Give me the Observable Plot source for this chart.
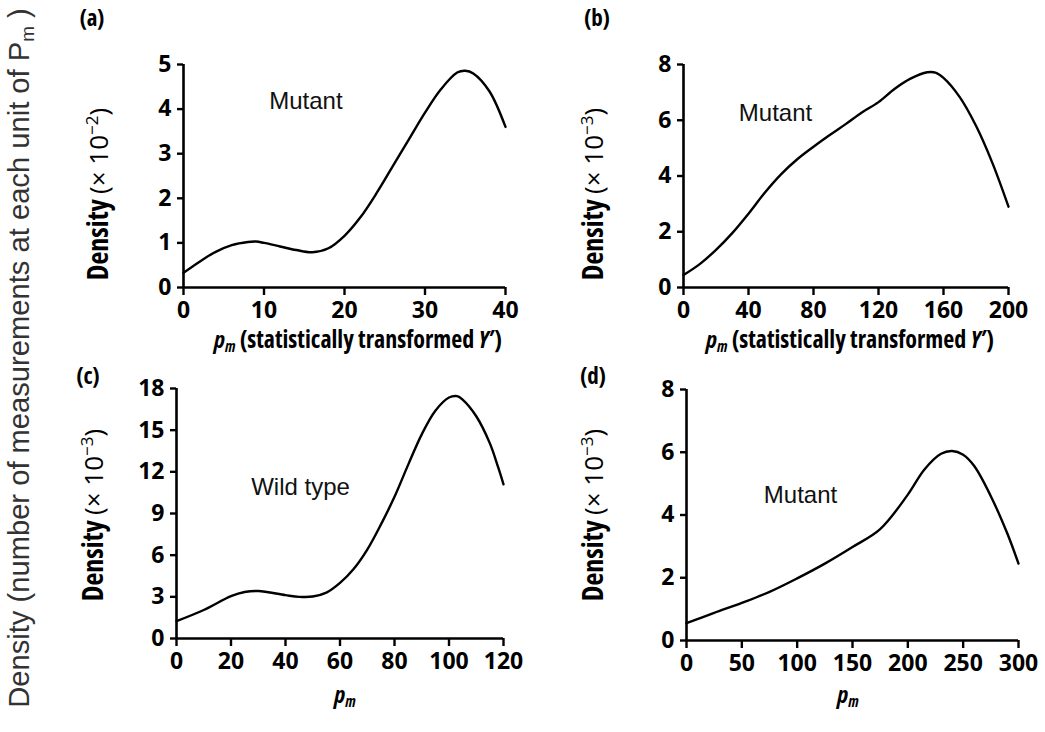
<!DOCTYPE html>
<html><head><meta charset="utf-8">
<script src="https://cdn.jsdelivr.net/npm/d3@7"></script>
<script src="https://cdn.jsdelivr.net/npm/@observablehq/plot@0.6"></script>
<style>
html,body{margin:0;padding:0;background:#fff;}
#fig{position:relative;width:1045px;height:732px;overflow:hidden;background:#fff;color:#000;}
.lbl{position:absolute;white-space:nowrap;transform:translate(-50%,-50%);line-height:1.1;}
.rot{transform:translate(-50%,-50%) rotate(-90deg);}
.tickfont{font-family:"Open Sans","DejaVu Sans",sans-serif;font-weight:700;font-stretch:87.5%;}
.reg{font-family:"Open Sans","DejaVu Sans",sans-serif;font-weight:400;font-stretch:normal;}
.plain{font-family:"Liberation Sans",Arial,sans-serif;font-weight:400;}
sup{font-size:62%;vertical-align:0.55em;line-height:0;}
sub{font-size:65%;vertical-align:-0.25em;line-height:0;}
</style></head><body><div id="fig"></div>
<script>
// ---------- data ----------
const aX = [0,2,4,6,8,9,10,12,14,16,18,20,22,24,26,28,30,32,34,35,36,38,40];
const aY = [0.33,0.58,0.80,0.95,1.02,1.03,1.00,0.92,0.84,0.79,0.88,1.16,1.58,2.12,2.72,3.32,3.92,4.45,4.82,4.86,4.80,4.40,3.60];
const bX = [0,10,20,30,40,50,60,70,80,90,100,110,120,130,140,150,155,160,170,180,190,200];
const bY = [0.45,0.84,1.35,1.95,2.65,3.40,4.06,4.60,5.05,5.47,5.87,6.29,6.65,7.13,7.50,7.72,7.71,7.52,6.83,5.80,4.48,2.90];
const cX = [0,10,20,25,30,40,45,50,55,60,65,70,75,80,85,90,95,100,103,105,110,115,118,120];
const cY = [1.25,2.05,3.05,3.35,3.42,3.12,3.00,3.02,3.30,4.00,5.00,6.40,8.20,10.20,12.50,14.70,16.40,17.35,17.45,17.20,16.00,14.05,12.35,11.10];
const dX = [0,25,50,75,100,125,150,175,200,215,230,240,250,260,275,290,300];
const dY = [0.55,0.88,1.20,1.55,1.98,2.45,2.98,3.55,4.65,5.45,5.95,6.04,5.92,5.56,4.60,3.40,2.45];

const aTicksX = [0,10,20,30,40], aTicksY = [0,1,2,3,4,5];
const bTicksX = [0,40,80,120,160,200], bTicksY = [0,2,4,6,8];
const cTicksX = [0,20,40,60,80,100,120], cTicksY = [0,3,6,9,12,15,18];
const dTicksX = [0,50,100,150,200,250,300], dTicksY = [0,2,4,6,8];

const panelLetters = ["(a)","(b)","(c)","(d)"];
const exponents = ["−2","−3","−3","−3"];
const notes = [
  {x: 15.2, y: 4.18, text: "Mutant"},
  {x: 56.6, y: 6.24, text: "Mutant"},
  {x: 45.5, y: 10.9, text: "Wild type"},
  {x: 103, y: 4.63, text: "Mutant"}
];
const xTitleLong = "(statistically transformed <i>Y</i>′)";

// ---------- layout ----------
const FONT = '"Open Sans","DejaVu Sans",sans-serif';
const fig = document.getElementById("fig");
const panels = [
  {xs:aX, ys:aY, xd:[0,40],  yd:[0,5],  xt:aTicksX, yt:aTicksY, frame:[183,505,64,287], letter:[92,18],  ylab:[97,194],  xlab:[358,339], long:true},
  {xs:bX, ys:bY, xd:[0,200], yd:[0,8],  xt:bTicksX, yt:bTicksY, frame:[683,1008,64,287], letter:[597,18], ylab:[592,194], xlab:[850,339], long:true},
  {xs:cX, ys:cY, xd:[0,120], yd:[0,18], xt:cTicksX, yt:cTicksY, frame:[176,503,388,638], letter:[88,376], ylab:[92,515],  xlab:[345,694], long:false},
  {xs:dX, ys:dY, xd:[0,300], yd:[0,8],  xt:dTicksX, yt:dTicksY, frame:[686,1018,389,640], letter:[593,376], ylab:[592,515], xlab:[848,694], long:false}
];

function addLabel(html, cx, cy, cls, size, rotate) {
  const d = document.createElement("div");
  d.className = "lbl " + cls + (rotate ? " rot" : "");
  d.style.left = cx + "px"; d.style.top = cy + "px";
  d.style.fontSize = size + "px";
  d.innerHTML = html;
  fig.appendChild(d);
  return d;
}

panels.forEach((p, i) => {
  const [fx0, fx1, fy0, fy1] = p.frame;
  const mL = 70, mR = 30, mT = 20, mB = 50;
  const data = p.xs.map((x, k) => ({x, y: p.ys[k]}));
  const svg = Plot.plot({
    width: fx1 - fx0 + mL + mR,
    height: fy1 - fy0 + mT + mB,
    marginLeft: mL, marginRight: mR, marginTop: mT, marginBottom: mB,
    style: {fontFamily: FONT, fontSize: "24px", fontWeight: "700", background: "transparent", color: "#000", overflow: "visible"},
    x: {domain: p.xd, label: null},
    y: {domain: p.yd, label: null},
    marks: [
      Plot.line(data, {x: "x", y: "y", curve: "catmull-rom", stroke: "#000", strokeWidth: 2.4}),
      Plot.ruleY([0], {stroke: "#000", strokeWidth: 2.6}),
      Plot.ruleX([0], {stroke: "#000", strokeWidth: 2.6}),
      Plot.axisX({ticks: p.xt, tickSize: 8, tickPadding: 6, strokeWidth: 2.4, label: null, fontSize: 23, fontWeight: 700, tickFormat: d => String(d)}),
      Plot.axisY({ticks: p.yt, tickSize: 6, tickPadding: 6, strokeWidth: 2.4, label: null, fontSize: 23, fontWeight: 700, tickFormat: d => String(d)}),
      Plot.text([notes[i]], {x: "x", y: "y", text: "text", fontSize: 24, fontWeight: 400, fontFamily: '"Liberation Sans",Arial,sans-serif', fill: "#111", stroke: null})
    ]
  });
  svg.style.position = "absolute";
  svg.style.left = (fx0 - mL) + "px";
  svg.style.top = (fy0 - mT) + "px";
  fig.appendChild(svg);

  addLabel(panelLetters[i], p.letter[0], p.letter[1], "tickfont", 23, false);
  addLabel('Density <span class="reg" style="font-size:26px">(× 10<sup style="font-size:17px">' + exponents[i] + '</sup>)</span>', p.ylab[0], p.ylab[1], "tickfont", 28, true);
  const xt = '<i>p<sub>m</sub></i>' + (p.long ? ' ' + xTitleLong : '');
  addLabel(xt, p.xlab[0], p.xlab[1], "tickfont", 24, false);
});

// outer axis title, sized to span the figure height
const outer = addLabel('Density (number of measurements at each unit of P<sub>m</sub> )', 19, 358, "plain", 24, true);
outer.style.color = "#333";
const w = outer.offsetWidth;
outer.style.fontSize = (24 * 700 / w) + "px";
</script>
</body></html>
